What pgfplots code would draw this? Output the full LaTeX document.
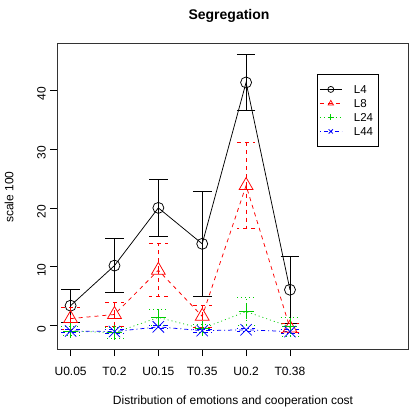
\documentclass[border=0pt]{standalone}
\usepackage{pgfplots}
\pgfplotsset{compat=1.18}
\usepackage{pgfplotstable}
\usepackage{fontspec}
\setmainfont{Liberation Sans}
\definecolor{rgreen}{RGB}{0,205,0}
\pgfplotstableread{
x y e
0 3.4 2.8
1 10.2 4.6
2 20.0 4.85
3 13.9 8.95
4 41.3 4.7
5 6.1 5.65
}\Lfour
\pgfplotstableread{
x y e
0 1.2 1.9
1 1.9 2.0
2 9.4 4.5
3 1.6 1.9
4 23.8 7.25
5 -0.4 0.8
}\Leight
\pgfplotstableread{
x y e
0 -0.9 0.8
1 -1.2 0.9
2 1.4 1.4
3 -0.5 0.7
4 2.4 2.4
5 -0.2 1.6
}\Ltwentyfour
\pgfplotstableread{
x y e
0 -0.9 0.3
1 -1.0 0.3
2 -0.2 0.3
3 -0.85 0.3
4 -0.7 0.2
5 -1.0 0.3
}\Lfortyfour
\begin{document}
\fontsize{12bp}{14bp}\selectfont
\begin{tikzpicture}
\path[use as bounding box] (-57bp,-63bp) rectangle (354bp,349bp);
\begin{axis}[
  at={(0bp,0bp)}, anchor=south west,
  width=351bp, height=306bp, scale only axis,
  xmin=-0.31, xmax=7.69, ymin=-3.96, ymax=48,
  xtick={0,1,2,3,4,5}, xticklabels={U0.05,T0.2,U0.15,T0.35,U0.2,T0.38},
  ytick={0,10,20,30,40},
  tick align=outside, xtick pos=bottom, ytick pos=left,
  major tick length=7bp,
  tick style={black, line width=0.6bp},
  axis line style={black!80, line width=0.8bp},
  /pgf/number format/assume math mode=true,
  ticklabel style={font=\fontsize{12bp}{14bp}\selectfont},
  yticklabel style={rotate=90, anchor=south, xshift=-3.5bp},
  xticklabel style={yshift=-7bp},
  legend style={at={(rel axis cs:0.74,0.898)}, anchor=north west, draw=black, line width=0.8bp,
    inner xsep=2.3bp, inner ysep=7.8bp, row sep=0pt, column sep=11.7bp,
    nodes={inner xsep=0pt, inner ysep=2.75bp, text height=8.5bp, text depth=0pt, text width=22.2bp,
      font=\fontsize{11.5bp}{13bp}\selectfont}},
  legend cell align=left,
  legend image code/.code={\draw[mark repeat=2,mark phase=2,#1,mark size=3bp] plot coordinates {(0bp,0bp) (11bp,0bp) (22bp,0bp)};},
]
\addplot[black, line width=0.75bp, mark=o, mark size=5.5bp, mark options={solid, fill=white},
  error bars/.cd, y dir=both, y explicit,
  error bar style={black, line width=0.75bp},
  error mark options={rotate=90, mark size=9.3bp, black, line width=0.75bp}]
  table[x=x, y=y, y error=e] {\Lfour};
\addlegendentry{L4}
\addplot[red, line width=0.75bp, dash pattern=on 4bp off 4bp, mark=triangle, mark size=8bp, mark options={solid, fill=white},
  error bars/.cd, y dir=both, y explicit,
  error bar style={red, line width=0.75bp, dash pattern=on 4bp off 4bp},
  error mark options={rotate=90, mark size=9.3bp, red, line width=0.75bp, dash pattern=on 4bp off 4bp}]
  table[x=x, y=y, y error=e] {\Leight};
\addlegendentry{L8}
\addplot[rgreen, line width=0.75bp, dash pattern=on 1bp off 3bp, mark=+, mark size=7.5bp, mark options={solid},
  error bars/.cd, y dir=both, y explicit,
  error bar style={rgreen, line width=0.75bp, dash pattern=on 1bp off 3bp},
  error mark options={rotate=90, mark size=9.3bp, rgreen, line width=0.75bp, dash pattern=on 1bp off 3bp}]
  table[x=x, y=y, y error=e] {\Ltwentyfour};
\addlegendentry{L24}
\addplot[blue, line width=0.75bp, dash pattern=on 1bp off 3bp on 4bp off 3bp, mark=x, mark size=8bp, mark options={solid},
  error bars/.cd, y dir=both, y explicit,
  error bar style={blue, line width=0.75bp, dash pattern=on 1bp off 3bp on 4bp off 3bp},
  error mark options={rotate=90, mark size=9.3bp, blue, line width=0.75bp, dash pattern=on 1bp off 3bp on 4bp off 3bp}]
  table[x=x, y=y, y error=e] {\Lfortyfour};
\addlegendentry{L44}
\end{axis}
\node[anchor=base, font=\bfseries\fontsize{14bp}{16bp}\selectfont, inner sep=0pt] at (172bp,329.7bp) {Segregation};
\node[anchor=base, inner sep=0pt] at (176bp,-55.3bp) {Distribution of emotions and cooperation cost};
\node[anchor=base, rotate=90, inner sep=0pt] at (-43.7bp,152bp) {scale 100};
\end{tikzpicture}
\end{document}
